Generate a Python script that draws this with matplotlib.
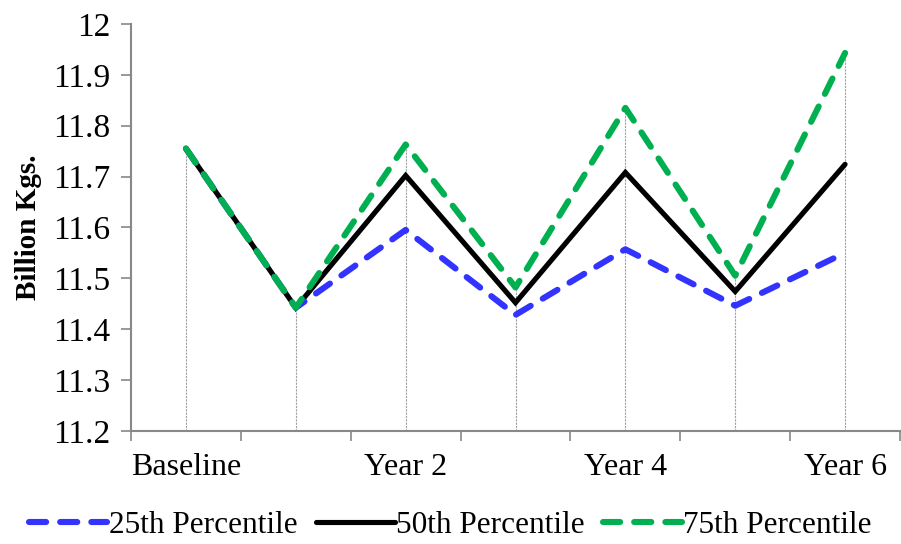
import matplotlib.pyplot as plt

categories = ['Baseline', 'Year 1', 'Year 2', 'Year 3', 'Year 4', 'Year 5', 'Year 6']
tick_labels = ['Baseline', '', 'Year 2', '', 'Year 4', '', 'Year 6']
p25 = [11.755, 11.442, 11.595, 11.428, 11.557, 11.446, 11.550]
p50 = [11.755, 11.442, 11.702, 11.452, 11.708, 11.474, 11.724]
p75 = [11.755, 11.442, 11.763, 11.482, 11.835, 11.505, 11.943]

plt.rcParams['font.family'] = ['Liberation Serif', 'DejaVu Serif']

fig = plt.figure(figsize=(9.01, 5.44), dpi=100)
ax = fig.add_axes([0.1454, 0.208, 0.8535, 0.748])

x = list(range(len(categories)))

# drop lines from the top point down to the axis
tops = [max(a, b, c) for a, b, c in zip(p25, p50, p75)]
ax.vlines(x, 11.2, tops, colors='#a0a0a0', linewidth=0.8, linestyles=(0, (2, 1)), zorder=1)

dash = (0, (2.8, 2.3))
l25, = ax.plot(x, p25, color='#3333ff', linewidth=4.4, linestyle=dash,
               dash_capstyle='round', solid_capstyle='round', label='25th Percentile', zorder=3)
l50, = ax.plot(x, p50, color='black', linewidth=3.7, solid_capstyle='round',
               solid_joinstyle='miter', label='50th Percentile', zorder=2)
l75, = ax.plot(x, p75, color='#00b050', linewidth=4.4, linestyle=dash,
               dash_capstyle='round', solid_capstyle='round', label='75th Percentile', zorder=4)

ax.set_xlim(-0.5, len(categories) - 0.5)
ax.set_ylim(11.2, 12.0)
ax.set_yticks([11.2 + 0.1 * i for i in range(9)])
ax.set_yticklabels(['11.2', '11.3', '11.4', '11.5', '11.6', '11.7', '11.8', '11.9', '12'])

# category ticks sit between categories, labels at category centres
ax.set_xticks([i - 0.5 for i in range(len(categories) + 1)])
ax.set_xticklabels([])
ax.set_xticks(x, minor=True)
ax.set_xticklabels(tick_labels, minor=True)
ax.tick_params(axis='x', which='minor', length=0, pad=16, labelsize=23)
ax.tick_params(axis='x', which='major', length=7, width=1.2, color='#888888', direction='out')
ax.tick_params(axis='y', length=7, width=1.2, color='#888888', direction='out', labelsize=24, pad=8)

for side in ['top', 'right']:
    ax.spines[side].set_visible(False)
for side in ['left', 'bottom']:
    ax.spines[side].set_color('#888888')
    ax.spines[side].set_linewidth(1.5)

ax.set_ylabel('Billion Kgs.', fontsize=21, fontweight='bold', labelpad=8)

fig.legend(handles=[l25, l50, l75], loc='lower center', bbox_to_anchor=(0.5, -0.045),
           ncol=3, frameon=False, fontsize=22.5, handlelength=2.5, handletextpad=0.05,
           columnspacing=0.6)

fig.savefig('out.png', dpi=100)
